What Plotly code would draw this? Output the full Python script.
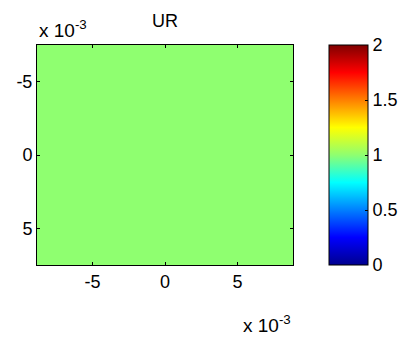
import plotly.graph_objects as go

# Data
x_edges = [-0.00883, 0.00883]
y_edges = [-0.0075, 0.0075]
z_values = [[1.0]]
x_tick_vals = [-0.005, 0, 0.005]
x_tick_text = ["-5", "0", "5"]
y_tick_vals = [-0.005, 0, 0.005]
y_tick_text = ["-5", "0", "5"]
cbar_tick_vals = [0, 0.5, 1, 1.5, 2]
cbar_tick_text = ["0", "0.5", "1", "1.5", "2"]

jet = [
    [0.0, "rgb(0,0,143)"],
    [0.125, "rgb(0,0,255)"],
    [0.375, "rgb(0,255,255)"],
    [0.5, "rgb(143,255,112)"],
    [0.625, "rgb(255,255,0)"],
    [0.875, "rgb(255,0,0)"],
    [1.0, "rgb(128,0,0)"],
]

font = dict(family="Liberation Sans, Arial, sans-serif", size=18, color="black")
font_exp = dict(family="Liberation Sans, Arial, sans-serif", size=19, color="black")

fig = go.Figure(go.Heatmap(
    x=x_edges, y=y_edges, z=z_values,
    zmin=0, zmax=2, colorscale=jet,
    colorbar=dict(
        x=1.1406, xanchor="left", xref="paper",
        y=1, yanchor="top", len=1, lenmode="fraction",
        thickness=39, thicknessmode="pixels",
        outlinecolor="black", outlinewidth=1,
        tickvals=cbar_tick_vals, ticktext=cbar_tick_text,
        ticks="inside", ticklen=3, tickcolor="black",
        tickfont=font, xpad=0, ypad=0,
    ),
    hoverinfo="skip",
))

fig.update_layout(
    width=406, height=345,
    margin=dict(l=37, r=113, t=45, b=80, autoexpand=False),
    paper_bgcolor="white", plot_bgcolor="white",
    font=font,
    showlegend=False,
    annotations=[
        dict(text="UR", x=0.5, y=1, xref="paper", yref="paper",
             xanchor="center", yanchor="bottom", yshift=12, showarrow=False, font=font),
        dict(text="x 10<sup>-3</sup>", x=0, y=1, xref="paper", yref="paper",
             xanchor="left", yanchor="bottom", yshift=2, showarrow=False, font=font_exp),
        dict(text="x 10<sup>-3</sup>", x=1, y=0, xref="paper", yref="paper",
             xanchor="right", yanchor="top", yshift=-45, showarrow=False, font=font_exp),
    ],
)

fig.update_xaxes(
    range=[x_edges[0], x_edges[1]],
    tickvals=x_tick_vals, ticktext=x_tick_text,
    ticks="inside", ticklen=3, tickcolor="black",
    showline=True, linecolor="black", linewidth=1, mirror="ticks",
    showgrid=False, zeroline=False, tickfont=font,
)
fig.update_yaxes(
    range=[y_edges[1], y_edges[0]],
    tickvals=y_tick_vals, ticktext=y_tick_text,
    ticks="inside", ticklen=3, tickcolor="black",
    showline=True, linecolor="black", linewidth=1, mirror="ticks",
    showgrid=False, zeroline=False, tickfont=font,
)

fig.write_html("out.html", config={"displayModeBar": False},
               post_script="document.body.style.margin='0px';")
